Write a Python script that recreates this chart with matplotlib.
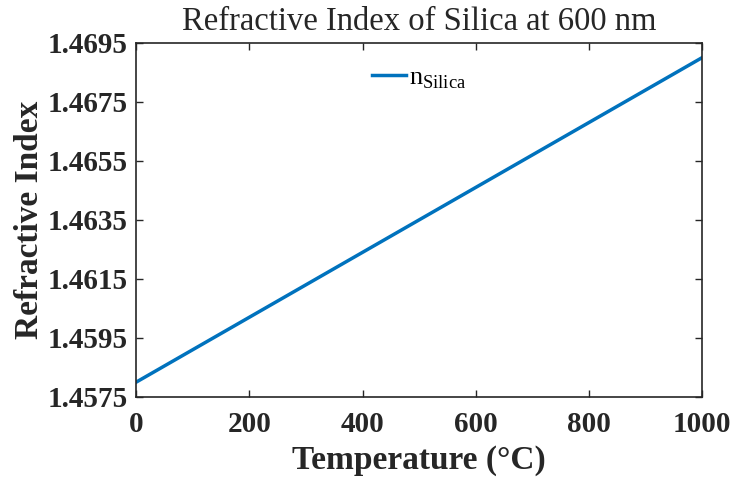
import numpy as np
import matplotlib
matplotlib.use("Agg")
import matplotlib.pyplot as plt

# values
temperature = [0, 200, 400, 600, 800, 1000]
n_silica = [1.4580, 1.4602, 1.4624, 1.4646, 1.4668, 1.4690]
x_ticks = [0, 200, 400, 600, 800, 1000]
y_ticks = [1.4575, 1.4595, 1.4615, 1.4635, 1.4655, 1.4675, 1.4695]

plt.rcParams['font.family'] = ['Liberation Serif', 'DejaVu Serif']
plt.rcParams['mathtext.fontset'] = 'custom'
plt.rcParams['mathtext.rm'] = 'Liberation Serif'

fig = plt.figure(figsize=(7.36, 4.87), dpi=100)
ax = fig.add_axes([0.185, 0.185, 0.769, 0.727])

ax.plot(temperature, n_silica, color='#0072BD', linewidth=2.5, label=r'n$_{\mathrm{Silica}}$')

ax.set_xlim(0, 1000)
ax.set_ylim(1.4575, 1.4695)
ax.set_xticks(x_ticks)
ax.set_yticks(y_ticks)
ax.set_xticklabels([str(t) for t in x_ticks])
ax.set_yticklabels([f"{t:.4f}" for t in y_ticks])

ax.tick_params(direction='in', top=True, right=True, length=5, width=1,
               labelsize=21, colors='#262626')
ax.tick_params(axis='x', pad=10)
ax.tick_params(axis='y', pad=6)
for lab in ax.get_xticklabels() + ax.get_yticklabels():
    lab.set_fontweight('bold')
for sp in ax.spines.values():
    sp.set_linewidth(1.2)
    sp.set_color('#262626')

ax.set_xlabel('Temperature (°C)', fontsize=24, fontweight='bold', color='#262626', labelpad=5)
ax.set_ylabel('Refractive Index', fontsize=24, fontweight='bold', color='#262626', labelpad=2)
ax.set_title('Refractive Index of Silica at 600 nm', fontsize=23.5, color='#262626', pad=9)

ax.legend(loc='center', frameon=False, fontsize=19, handlelength=1.3,
          handletextpad=0.1, bbox_to_anchor=(0.5, 0.9))

fig.savefig('out.png', dpi=100)
